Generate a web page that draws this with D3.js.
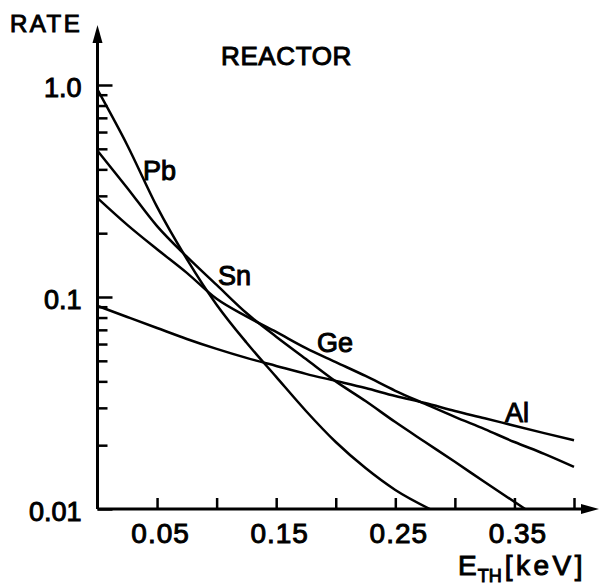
<!DOCTYPE html>
<html>
<head>
<meta charset="utf-8">
<script src="https://cdn.jsdelivr.net/npm/d3@7"></script>
<style>
  body { margin: 0; background: #fff; }
  text { font-family: "Liberation Sans", Arial, sans-serif; fill: #000; stroke: #000; stroke-width: 1px; }
</style>
</head>
<body>
<svg id="chart" width="600" height="588"></svg>
<script>
// threshold energy grid [keV] and rates
var gridEnergy = [0, 0.025, 0.05, 0.075, 0.10, 0.125, 0.15, 0.175, 0.20, 0.225, 0.25, 0.275, 0.30, 0.325, 0.35, 0.375, 0.40];

var pbEnergy = [0, 0.025, 0.05, 0.075, 0.10, 0.125, 0.15, 0.175, 0.20, 0.225, 0.25, 0.279];
var pbRate = [0.95, 0.52, 0.266, 0.151, 0.092, 0.061, 0.042, 0.029, 0.0207, 0.0156, 0.0123, 0.01];

var snEnergy = [0, 0.025, 0.05, 0.075, 0.10, 0.125, 0.15, 0.175, 0.20, 0.225, 0.25, 0.275, 0.30, 0.325, 0.359];
var snRate = [0.49, 0.327, 0.216, 0.155, 0.114, 0.084, 0.065, 0.051, 0.040, 0.0323, 0.0257, 0.0207, 0.0167, 0.0134, 0.01];

var geRate = [0.293, 0.219, 0.168, 0.130, 0.098, 0.081, 0.0684, 0.0574, 0.0493, 0.0424, 0.0361, 0.0313, 0.0272, 0.0238, 0.0207, 0.0182, 0.0158];
var alRate = [0.0908, 0.0805, 0.0714, 0.0634, 0.0569, 0.0516, 0.0473, 0.0434, 0.0402, 0.0372, 0.0341, 0.0316, 0.0290, 0.0268, 0.0247, 0.0228, 0.0211];

var xTicks = [0.05, 0.10, 0.15, 0.20, 0.25, 0.30, 0.35, 0.40];
var xLabels = ["0.05", "0.15", "0.25", "0.35"];
var yMajor = [1, 0.1, 0.01];
var yMajorLabels = ["1.0", "0.1", "0.01"];
var yMinor = [0.02, 0.03, 0.04, 0.05, 0.06, 0.07, 0.08, 0.09, 0.2, 0.3, 0.4, 0.5, 0.6, 0.7, 0.8, 0.9];

var series = [
    { name: "Pb", energy: pbEnergy, rate: pbRate },
    { name: "Sn", energy: snEnergy, rate: snRate },
    { name: "Ge", energy: gridEnergy, rate: geRate },
    { name: "Al", energy: gridEnergy, rate: alRate }
];

var svg = d3.select("#chart");

var x = d3.scaleLinear().domain([0, 0.4]).range([97.5, 574]);
var y = d3.scaleLog().domain([0.01, 1]).range([509, 85]);

// x axis ticks, pointing up, labels only on every other tick
svg.append("g")
    .attr("transform", "translate(0," + y(0.01) + ")")
    .call(d3.axisBottom(x)
        .tickValues(xTicks)
        .tickSizeInner(-11)
        .tickSizeOuter(0)
        .tickPadding(14)
        .tickFormat(function (d) {
            var s = d.toFixed(2);
            return xLabels.indexOf(s) >= 0 ? s : "";
        }))
    .call(function (g) { g.select(".domain").remove(); })
    .call(function (g) {
        g.selectAll("line").attr("stroke", "#000").attr("stroke-width", 2.5);
        g.selectAll("text").attr("font-size", 28).attr("letter-spacing", 1).attr("dx", 3);
    });

// y axis minor ticks
svg.append("g")
    .attr("transform", "translate(" + x(0) + ",0)")
    .call(d3.axisLeft(y)
        .tickValues(yMinor)
        .tickSizeInner(-10)
        .tickSizeOuter(0)
        .tickFormat(""))
    .call(function (g) { g.select(".domain").remove(); })
    .call(function (g) {
        g.selectAll("line").attr("stroke", "#000").attr("stroke-width", 2.5);
    });

// y axis major ticks with labels
svg.append("g")
    .attr("transform", "translate(" + x(0) + ",0)")
    .call(d3.axisLeft(y)
        .tickValues(yMajor)
        .tickSizeInner(-15)
        .tickSizeOuter(0)
        .tickPadding(16)
        .tickFormat(function (d, i) { return yMajorLabels[i]; }))
    .call(function (g) { g.select(".domain").remove(); })
    .call(function (g) {
        g.selectAll("line").attr("stroke", "#000").attr("stroke-width", 2.5);
        g.selectAll("text").attr("font-size", 27).attr("dy", "0.42em");
    });

// axis lines with arrow heads
var x0 = x(0), y0 = y(0.01);
svg.append("path")
    .attr("d", "M" + x0 + "," + y0 + "V40M" + x0 + "," + y0 + "H585")
    .attr("fill", "none")
    .attr("stroke", "#000")
    .attr("stroke-width", 3);

svg.append("path")
    .attr("d", "M" + x0 + ",25L" + (x0 - 5) + ",43L" + (x0 + 5) + ",43Z")
    .attr("fill", "#000");

svg.append("path")
    .attr("d", "M599," + y0 + "L581," + (y0 - 5) + "L581," + (y0 + 5) + "Z")
    .attr("fill", "#000");

// rate curves
var line = d3.line()
    .x(function (d) { return x(d[0]); })
    .y(function (d) { return y(d[1]); })
    .curve(d3.curveMonotoneX);

svg.selectAll(".curve")
    .data(series)
    .enter()
    .append("path")
    .attr("class", "curve")
    .attr("fill", "none")
    .attr("stroke", "#000")
    .attr("stroke-width", 2.5)
    .attr("d", function (d) {
        return line(d.energy.map(function (e, i) { return [e, d.rate[i]]; }));
    });

// curve labels
var labelPos = { Pb: [143, 180], Sn: [218, 285], Ge: [317, 352], Al: [505, 422] };
svg.selectAll(".lab")
    .data(series)
    .enter()
    .append("text")
    .attr("class", "lab")
    .attr("x", function (d) { return labelPos[d.name][0]; })
    .attr("y", function (d) { return labelPos[d.name][1]; })
    .attr("font-size", 27)
    .text(function (d) { return d.name; });

// titles
svg.append("text")
    .attr("x", 10)
    .attr("y", 32)
    .attr("font-size", 24)
    .attr("letter-spacing", 2.5)
    .text("RATE");

svg.append("text")
    .attr("x", 221)
    .attr("y", 65)
    .attr("font-size", 26)
    .attr("letter-spacing", 0.6)
    .text("REACTOR");

var xt = svg.append("text")
    .attr("x", 458)
    .attr("y", 575)
    .attr("font-size", 28);
xt.append("tspan").text("E");
xt.append("tspan").attr("font-size", 18).attr("dx", 1).attr("dy", 7).text("TH");
xt.append("tspan").attr("dx", 3).attr("dy", -7).attr("letter-spacing", 3.5).text("[keV]");
</script>
</body>
</html>
